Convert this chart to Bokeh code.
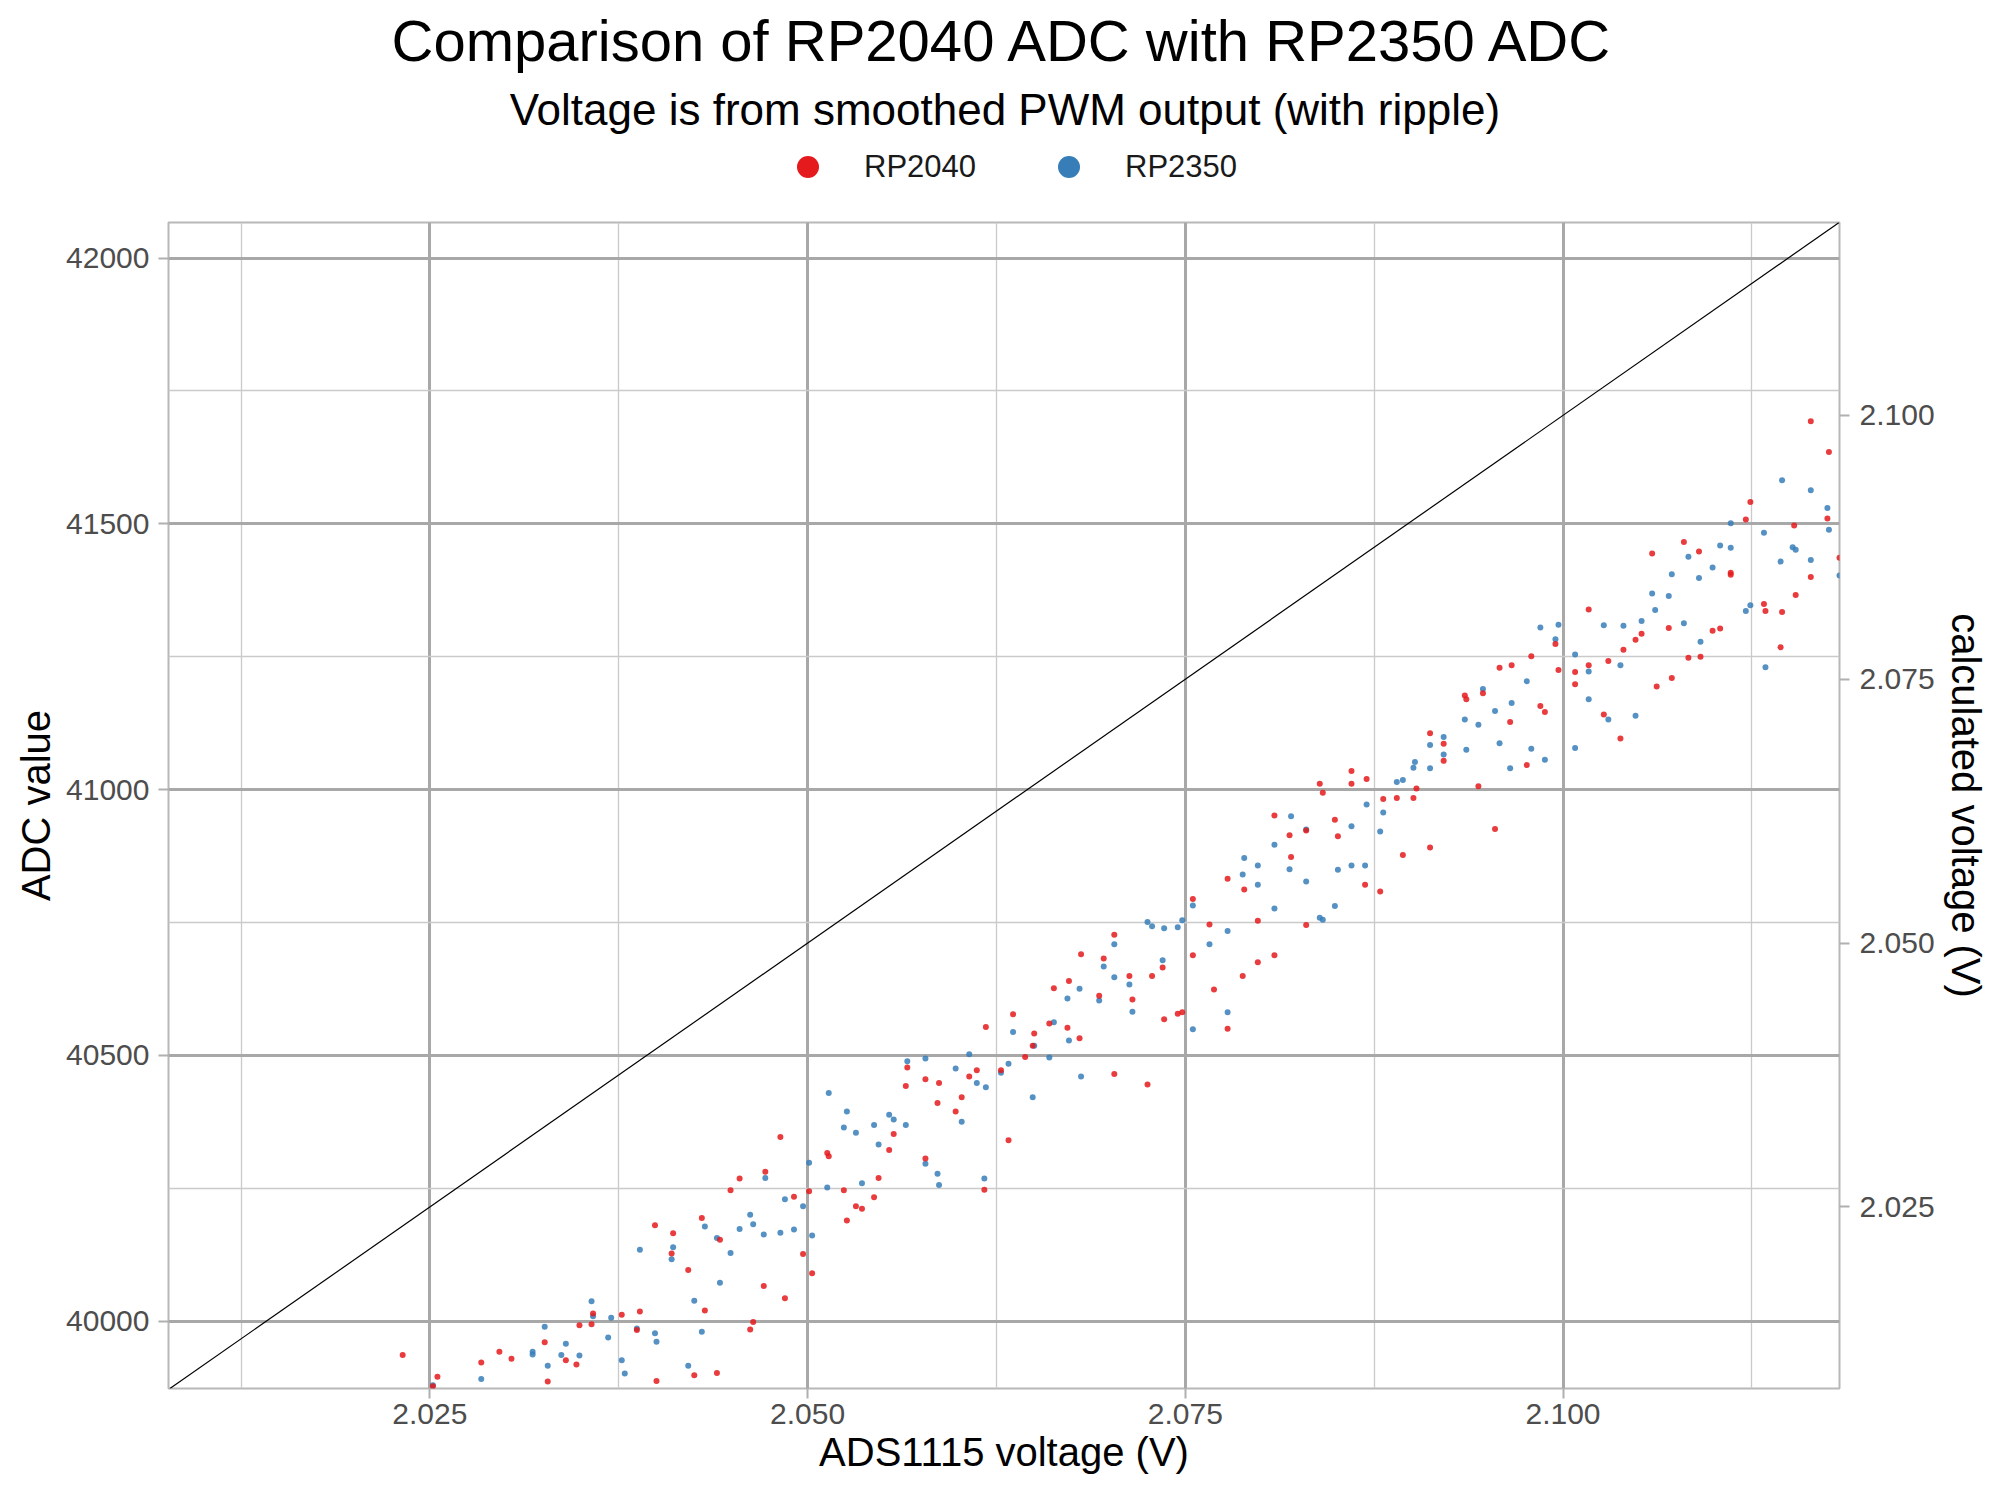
from bokeh.plotting import figure
from bokeh.layouts import column
from bokeh.models import (Range1d, LinearAxis, FixedTicker, NumeralTickFormatter,
                          Legend, LegendItem, Label, Slope, ColumnDataSource)
from bokeh.embed import file_html
from bokeh.resources import INLINE

# ---------------- data ----------------
series_names = ["RP2040", "RP2350"]

rp2040_v = [
    2.0232, 2.0255, 2.0252, 2.0284, 2.0296, 2.0304, 2.0326, 2.0328, 2.0340, 2.0347, 2.0349, 2.0357, 2.0358,
    2.0482, 2.0472, 2.0455, 2.0449, 2.0491, 2.0430, 2.0399, 2.0411, 2.0442, 2.0410, 2.0497, 2.0421, 2.0471,
    2.0485, 2.0377, 2.0389, 2.0432, 2.0464, 2.0462, 2.0387, 2.0400, 2.0425, 2.0440,
    2.0618, 2.0636, 2.0566, 2.0565, 2.0578, 2.0587, 2.0612, 2.0607, 2.0628, 2.0602, 2.0586, 2.0598, 2.0557,
    2.0554, 2.0513, 2.0514, 2.0578, 2.0633, 2.0547, 2.0501, 2.0524, 2.0544, 2.0532, 2.0536, 2.0526, 2.0617, 2.0503,
    2.0755, 2.0766, 2.0703, 2.0681, 2.0696, 2.0755, 2.0673, 2.0663, 2.0713, 2.0728, 2.0735, 2.0693, 2.0715,
    2.0769, 2.0736, 2.0745, 2.0748, 2.0660, 2.0650, 2.0672, 2.0680, 2.0649, 2.0644, 2.0703, 2.0725, 2.0778,
    2.0778, 2.0789, 2.0912, 2.0860, 2.0870, 2.0839, 2.0860, 2.0841, 2.0881, 2.0890, 2.0901, 2.0903, 2.0809,
    2.0849, 2.0819, 2.0830, 2.0851, 2.0820, 2.0912, 2.0894, 2.0869, 2.0879, 2.0798, 2.0830, 2.0809, 2.0798, 2.0788,
    2.1017, 2.1052, 2.1048, 2.1040, 2.1030, 2.0995, 2.0979, 2.0958, 2.0966, 2.0997, 2.1008, 2.1017, 2.1008,
    2.0935, 2.0936, 2.0947, 2.0985, 2.0988, 2.0965, 2.1027, 2.1038, 2.0921, 2.0921, 2.0976, 2.0944, 2.0955,
    2.1164, 2.1176, 2.1124, 2.1121, 2.1175, 2.1153, 2.1183, 2.1080, 2.1059, 2.1090, 2.1111, 2.1111, 2.1164,
    2.1154, 2.1133, 2.1134, 2.1145, 2.1070, 2.1099, 2.1104, 2.1144, 2.1083, 2.1091, 2.1072, 2.1062,
]
rp2040_adc = [
    39936, 39895, 39877, 39922, 39942, 39929, 39960, 39886, 39926, 39918, 39992, 39994, 40014,
    40346, 40281, 40268, 40246, 40234, 40194, 40180, 40165, 40153, 40127, 40126, 40096, 40066,
    40043, 40012, 40018, 40020, 39998, 39984, 39983, 39887, 39898, 39902,
    40553, 40577, 40477, 40442, 40455, 40448, 40472, 40460, 40472, 40421, 40410, 40394, 40352,
    40322, 40316, 40310, 40306, 40340, 40269, 40244, 40246, 40233, 40216, 40211, 40189, 40247, 40090,
    40794, 40746, 40727, 40690, 40682, 40688, 40640, 40626, 40649, 40649, 40665, 40612, 40605,
    40624, 40568, 40578, 40581, 40560, 40541, 40552, 40532, 40518, 40497, 40465, 40445, 40550,
    40832, 40812, 41106, 41035, 41020, 41011, 41011, 40994, 40982, 40984, 40984, 41002, 40951,
    40943, 40914, 40923, 40912, 40873, 40891, 40877, 40821, 40808, 40753, 40745, 40688, 40675, 40649,
    41339, 41293, 41282, 41263, 41242, 41274, 41251, 41229, 41234, 41225, 41221, 41234, 41198,
    41177, 41170, 41181, 41157, 41146, 41127, 41141, 41096, 41086, 41054, 41046, 41006, 40926,
    41693, 41635, 41541, 41508, 41510, 41497, 41436, 41466, 41444, 41448, 41408, 41404, 41400,
    41366, 41349, 41336, 41334, 41304, 41299, 41303, 41268, 41248, 41250, 41210, 41194,
]

rp2350_v = [
    2.0252, 2.0284, 2.0318, 2.0318, 2.0326, 2.0328, 2.0337, 2.0340, 2.0349, 2.0357, 2.0358,
    2.0472, 2.0485, 2.0497, 2.0462, 2.0464, 2.0432, 2.0455, 2.0440, 2.0471, 2.0482, 2.0491, 2.0389, 2.0411,
    2.0410, 2.0449, 2.0442, 2.0425, 2.0370, 2.0368, 2.0387, 2.0399, 2.0400, 2.0430, 2.0377, 2.0379, 2.0421,
    2.0636, 2.0566, 2.0578, 2.0607, 2.0598, 2.0612, 2.0618, 2.0628, 2.0633, 2.0514, 2.0526, 2.0524, 2.0532,
    2.0544, 2.0554, 2.0557, 2.0565, 2.0602, 2.0547, 2.0501, 2.0578, 2.0586, 2.0587, 2.0513, 2.0536, 2.0617, 2.0503,
    2.0755, 2.0725, 2.0728, 2.0736, 2.0745, 2.0748, 2.0703, 2.0766, 2.0735, 2.0696, 2.0703, 2.0680, 2.0672,
    2.0693, 2.0713, 2.0715, 2.0663, 2.0650, 2.0673, 2.0660, 2.0755, 2.0681, 2.0649, 2.0778,
    2.0778, 2.0912, 2.0902, 2.0901, 2.0912, 2.0890, 2.0894, 2.0870, 2.0881, 2.0820, 2.0830, 2.0860, 2.0879,
    2.0809, 2.0789, 2.0798, 2.0788, 2.0819, 2.0851, 2.0860, 2.0869, 2.0798, 2.0830, 2.0809, 2.0849, 2.0839, 2.0841,
    2.0985, 2.0997, 2.0995, 2.1027, 2.1040, 2.1052, 2.1008, 2.1017, 2.1038, 2.0976, 2.0947, 2.1017, 2.0966,
    2.0955, 2.0935, 2.0944, 2.1030, 2.1048, 2.0921, 2.0921, 2.0958, 2.0936, 2.0979, 2.1008, 2.0988, 2.0965,
    2.1145, 2.1164, 2.1175, 2.1176, 2.1111, 2.1133, 2.1152, 2.1154, 2.1104, 2.1111, 2.1083, 2.1144, 2.1164,
    2.1183, 2.1072, 2.1090, 2.1099, 2.1059, 2.1070, 2.1061, 2.1124, 2.1121, 2.1080, 2.1091, 2.1134,
]
rp2350_adc = [
    39879, 39891, 39942, 39937, 39989, 39916, 39936, 39957, 39935, 40037, 40009,
    40269, 40229, 40216, 40200, 40182, 40178, 40173, 40156, 40163, 40166, 40172, 40134, 40139,
    40116, 40128, 40072, 40038, 40006, 39969, 39986, 39977, 39961, 39980, 39926, 39901, 39916,
    40544, 40489, 40494, 40502, 40475, 40448, 40440, 40467, 40484, 40429, 40394, 40364, 40354,
    40369, 40388, 40379, 40369, 40375, 40332, 40298, 40296, 40277, 40256, 40251, 40259, 40268, 40161,
    40782, 40751, 40743, 40739, 40741, 40754, 40709, 40709, 40679, 40667, 40647, 40625, 40607,
    40603, 40633, 40582, 40562, 40518, 40528, 40496, 40549, 40460, 40421, 40581,
    40734, 41084, 41052, 41041, 41040, 41014, 41018, 40972, 40957, 40950, 40925, 40931, 40921,
    40896, 40871, 40857, 40840, 40850, 40849, 40857, 40857, 40821, 40827, 40776, 40781, 40759, 40755,
    41305, 41310, 41283, 41309, 41308, 41317, 41254, 41222, 41234, 41204, 41189, 41170, 41163,
    41148, 41132, 41122, 41132, 41139, 41099, 41066, 41087, 41075, 41077, 41078, 41056, 41040,
    41582, 41563, 41530, 41489, 41501, 41483, 41456, 41451, 41459, 41455, 41438, 41429, 41432,
    41403, 41405, 41398, 41418, 41369, 41364, 41338, 41347, 41336, 41313, 41278, 41230,
]

x_ticks = [2.025, 2.050, 2.075, 2.100]
x_minor_ticks = [2.0125, 2.0375, 2.0625, 2.0875, 2.1125]
y_ticks = [40000, 40500, 41000, 41500, 42000]
y_minor_ticks = [40250, 40750, 41250, 41750]
volt_ticks = [2.025, 2.050, 2.075, 2.100]

ADC_PER_VOLT = 65535 / 3.3      # calculated voltage = ADC * 3.3 / 65535
x_limits = (2.0077, 2.1183)
y_limits = (39873, 42067)

title_text = "Comparison of RP2040 ADC with RP2350 ADC"
subtitle_text = "Voltage is from smoothed PWM output (with ripple)"
x_label = "ADS1115 voltage (V)"
y_label = "ADC value"
y2_label = "calculated voltage (V)"

# ---------------- style ----------------
FONT = "Liberation Sans"
RED = "#E41A1C"
BLUE = "#377EB8"
TICK_COL = "#4D4D4D"
W = 2000
HEADER_H = 219

src_a = ColumnDataSource(dict(v=rp2040_v, adc=rp2040_adc))
src_b = ColumnDataSource(dict(v=rp2350_v, adc=rp2350_adc))

# ---------------- header (title, subtitle, key) ----------------
hdr = figure(width=W, height=HEADER_H, output_backend="svg", toolbar_location=None,
             x_range=Range1d(0, W), y_range=Range1d(HEADER_H, 0),
             x_axis_type=None, y_axis_type=None, min_border=0, title=None)
hdr.outline_line_color = None
hdr.background_fill_color = "white"
hdr.border_fill_color = "white"

hdr.add_layout(Label(x=W / 2, y=40, text=title_text, text_align="center", text_baseline="middle",
                     text_font=FONT, text_font_size="58px", text_color="black"))
hdr.add_layout(Label(x=W / 2 + 1, y=109, text=subtitle_text, text_align="center", text_baseline="middle",
                     text_font=FONT, text_font_size="44px", text_color="black"))

# key renderers: same data, lying outside the header's ranges (only the key shows)
key_a = hdr.scatter("v", "adc", source=src_a, size=5, fill_color=RED, line_color=None)
key_b = hdr.scatter("v", "adc", source=src_b, size=5, fill_color=BLUE, line_color=None)
key = Legend(items=[LegendItem(label=series_names[0], renderers=[key_a]),
                    LegendItem(label=series_names[1], renderers=[key_b])],
             orientation="horizontal", location=(612, HEADER_H - 167 - 27),
             glyph_width=55, glyph_height=55, label_standoff=29, spacing=65,
             padding=0, margin=0, border_line_color=None, background_fill_alpha=0,
             label_text_font=FONT, label_text_font_size="31px", label_text_color="#1A1A1A")
hdr.add_layout(key)

# ---------------- main plot ----------------
p = figure(width=W, height=1500 - HEADER_H, output_backend="svg", toolbar_location=None,
           title=None,
           x_range=Range1d(*x_limits), y_range=Range1d(*y_limits),
           min_border_left=168, min_border_right=161,
           min_border_top=222 - HEADER_H, min_border_bottom=112)
p.background_fill_color = "white"
p.border_fill_color = "white"
p.outline_line_color = "#B8B8B8"
p.outline_line_width = 2

p.extra_y_ranges = {"volt": Range1d(y_limits[0] / ADC_PER_VOLT, y_limits[1] / ADC_PER_VOLT)}

xax = p.xaxis[0]
yax = p.yaxis[0]
xax.ticker = FixedTicker(ticks=x_ticks, minor_ticks=x_minor_ticks)
yax.ticker = FixedTicker(ticks=y_ticks, minor_ticks=y_minor_ticks)
xax.formatter = NumeralTickFormatter(format="0.000")
yax.formatter = NumeralTickFormatter(format="0")
xax.axis_label = x_label
yax.axis_label = y_label

rax = LinearAxis(y_range_name="volt", ticker=FixedTicker(ticks=volt_ticks),
                 formatter=NumeralTickFormatter(format="0.000"), axis_label=y2_label)
p.add_layout(rax, "right")

for ax in (xax, yax, rax):
    ax.axis_line_color = None
    ax.major_tick_line_color = "#B0B0B0"
    ax.major_tick_line_width = 2
    ax.major_tick_out = 10
    ax.major_tick_in = 0
    ax.minor_tick_line_color = None
    ax.major_label_text_font = FONT
    ax.major_label_text_font_size = "30px"
    ax.major_label_text_color = TICK_COL
    ax.axis_label_text_font = FONT
    ax.axis_label_text_font_size = "40px"
    ax.axis_label_text_font_style = "normal"
    ax.axis_label_text_color = "black"

xax.major_label_standoff = 5
xax.axis_label_standoff = 3
yax.major_label_standoff = 9
yax.axis_label_standoff = 5
rax.major_label_standoff = 10
rax.axis_label_standoff = 6

for g in (p.xgrid[0], p.ygrid[0]):
    g.grid_line_color = "#A8A8A8"
    g.grid_line_width = 3
    g.minor_grid_line_color = "#CACACA"
    g.minor_grid_line_width = 1.3

p.scatter("v", "adc", source=src_b, size=6, fill_color=BLUE, fill_alpha=0.85, line_color=None)
p.scatter("v", "adc", source=src_a, size=6, fill_color=RED, fill_alpha=0.85, line_color=None)

p.add_layout(Slope(gradient=ADC_PER_VOLT, y_intercept=0, line_color="black", line_width=1.2))

layout = column(hdr, p, spacing=0)
open("out.html", "w").write(file_html(layout, INLINE))
